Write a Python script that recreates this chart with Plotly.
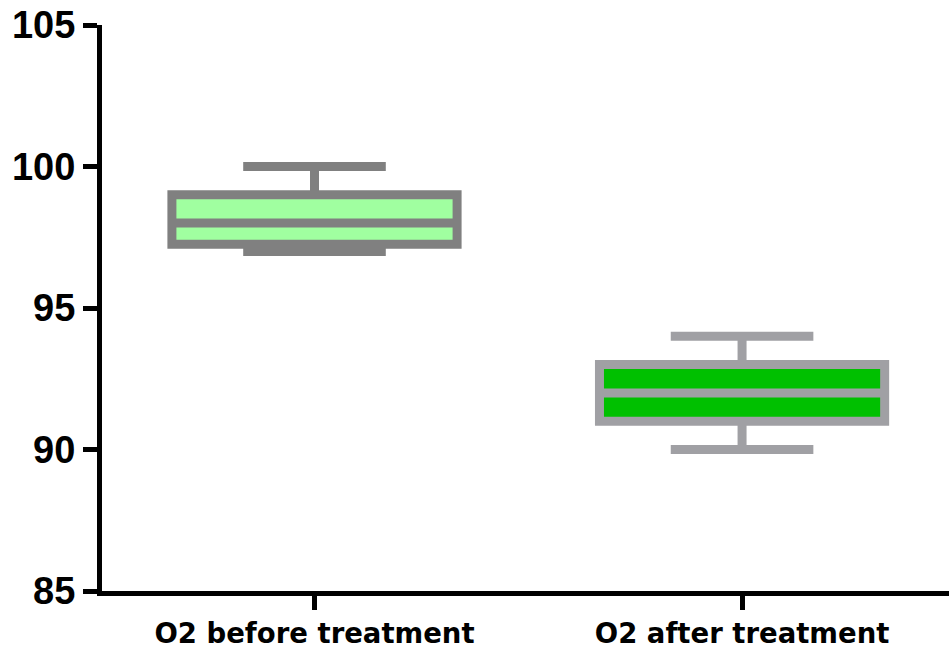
import plotly.graph_objects as go

# Oxygen saturation summary (five-number summaries per group)
groups = ["O2 before treatment", "O2 after treatment"]
lower_fence = [97.0, 90.0]
q1 = [97.25, 91.0]
median = [98.0, 92.0]
q3 = [99.0, 93.0]
upper_fence = [100.0, 94.0]

line_colors = ["#808080", "#A0A0A4"]
fill_colors = ["#A0FFA0", "#00C000"]

fig = go.Figure()
for i, g in enumerate(groups):
    fig.add_trace(go.Box(
        x=[g],
        lowerfence=[lower_fence[i]],
        q1=[q1[i]],
        median=[median[i]],
        q3=[q3[i]],
        upperfence=[upper_fence[i]],
        width=0.667,
        whiskerwidth=0.5,
        line=dict(color=line_colors[i], width=9),
        fillcolor=fill_colors[i],
        boxpoints=False,
        showlegend=False,
        hoverinfo="skip",
    ))

fig.update_layout(
    width=949,
    height=652,
    margin=dict(l=102, r=0, t=25, b=61),
    paper_bgcolor="white",
    plot_bgcolor="white",
    xaxis=dict(
        type="category",
        range=[-0.497, 1.484],
        showline=True,
        linecolor="black",
        linewidth=5,
        ticks="outside",
        ticklen=14,
        tickwidth=5,
        tickcolor="black",
        showgrid=False,
        zeroline=False,
        tickfont=dict(family="DejaVu Sans", size=27.5, color="black", weight="bold"),
    ),
    yaxis=dict(
        range=[85, 105],
        tickvals=[85, 90, 95, 100, 105],
        showline=True,
        linecolor="black",
        linewidth=5,
        ticks="outside",
        ticklen=14,
        tickwidth=5,
        tickcolor="black",
        showgrid=False,
        zeroline=False,
        tickfont=dict(family="Liberation Sans", size=38, color="black", weight="bold"),
    ),
)

fig.write_html("out.html")
